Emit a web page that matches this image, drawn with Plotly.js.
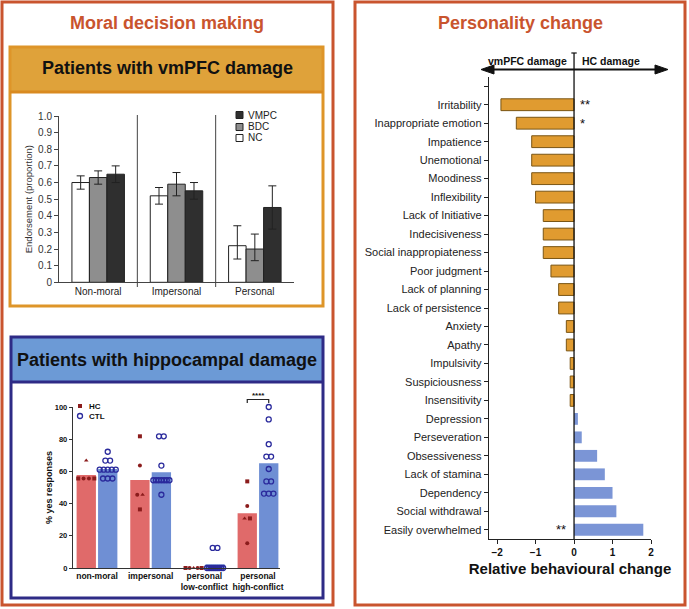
<!DOCTYPE html>
<html>
<head>
<meta charset="utf-8">
<script src="https://cdn.plot.ly/plotly-3.0.1.min.js"></script>
<style>
  html, body { margin: 0; padding: 0; background: #fff; }
  #chart { width: 689px; height: 609px; }
</style>
</head>
<body>
<div id="chart"></div>
<script>
// ---------------- DATA ----------------
// Panel A: Patients with vmPFC damage (endorsement proportion)
const moralCats = ['Non-moral', 'Impersonal', 'Personal'];
const ncVals   = [0.60, 0.52, 0.22];
const ncHi     = [0.64, 0.57, 0.34];
const ncLo     = [0.56, 0.47, 0.14];
const bdcVals  = [0.63, 0.59, 0.20];
const bdcHi    = [0.67, 0.66, 0.29];
const bdcLo    = [0.59, 0.52, 0.13];
const vmpcVals = [0.65, 0.55, 0.45];
const vmpcHi   = [0.70, 0.60, 0.58];
const vmpcLo   = [0.60, 0.50, 0.32];
const endorseTicks    = [0, 0.1, 0.2, 0.3, 0.4, 0.5, 0.6, 0.7, 0.8, 0.9, 1.0];
const endorseTickText = ['0', '0.1', '0.2', '0.3', '0.4', '0.5', '0.6', '0.7', '0.8', '0.9', '1.0'];

// Panel B: Patients with hippocampal damage (% yes responses)
const hcCats   = ['non-moral', 'impersonal', 'personal<br>low-conflict', 'personal<br>high-conflict'];
const hcMeans  = [57.8, 54.6, 0, 34.0];
const ctlMeans = [61.5, 59.5, 2.3, 65.0];
// individual HC patients (5 per condition, same patient order)
const hcPoints = [
  [55.6, 55.6, 66.7, 55.6, 55.6],
  [36.4, 45.5, 45.5, 63.6, 81.8],
  [0, 0, 0, 0, 0],
  [53.8, 15.4, 30.8, 38.5, 30.8]
];
const hcSymbols = ['square', 'circle', 'triangle-up', 'circle', 'square'];
// individual controls
const ctlPoints = [
  [72.2, 66.7, 66.7, 61.1, 61.1, 61.1, 61.1, 61.1, 55.6, 55.6, 55.6],
  [81.8, 81.8, 63.6, 54.5, 54.5, 54.5, 54.5, 54.5, 54.5, 54.5, 45.5],
  [12.5, 12.5, 0, 0, 0, 0, 0, 0, 0, 0, 0],
  [100, 92.3, 76.9, 69.2, 69.2, 61.5, 53.8, 53.8, 46.2, 46.2, 46.2]
];
const pctTicks = [0, 20, 40, 60, 80, 100];

// Panel C: Personality change
const traits = ['Irritability', 'Inappropriate emotion', 'Impatience', 'Unemotional', 'Moodiness',
  'Inflexibility', 'Lack of Initiative', 'Indecisiveness', 'Social inappropiateness', 'Poor judgment',
  'Lack of planning', 'Lack of persistence', 'Anxiety', 'Apathy', 'Impulsivity', 'Suspiciousness',
  'Insensitivity', 'Depression', 'Perseveration', 'Obsessiveness', 'Lack of stamina', 'Dependency',
  'Social withdrawal', 'Easily overwhelmed'];
const traitChange = [-1.9, -1.5, -1.1, -1.1, -1.1, -1.0, -0.8, -0.8, -0.8, -0.6,
  -0.4, -0.4, -0.2, -0.2, -0.1, -0.1, -0.1, 0.1, 0.2, 0.6, 0.8, 1.0, 1.1, 1.8];
const traitStars = {'Irritability': '**', 'Inappropriate emotion': '*', 'Easily overwhelmed': '**'};
const changeTicks = [-2, -1, 0, 1, 2];

// ---------------- HELPERS ----------------
const W = 689, H = 609;
const px = x => x / W;
const py = y => 1 - y / H;
const FONT = 'Liberation Sans, Arial, Helvetica, sans-serif';
const ORANGE_RED = '#c9542e';

function spread(vals, center, step, maxSpan) {
  const out = new Array(vals.length);
  const groups = {};
  vals.forEach((v, i) => { (groups[v] = groups[v] || []).push(i); });
  Object.values(groups).forEach(idx => {
    const n = idx.length;
    const s = n > 1 ? Math.min(step, maxSpan / (n - 1)) : 0;
    idx.forEach((i, k) => { out[i] = center + (k - (n - 1) / 2) * s; });
  });
  return out;
}

const traces = [];

// ---- Panel A bars ----
function errPlus(v, hi) { return hi.map((h, i) => +(h - v[i]).toFixed(3)); }
function errMinus(v, lo) { return lo.map((l, i) => +(v[i] - l).toFixed(3)); }
[
  {name: 'NC',   v: ncVals,   hi: ncHi,   lo: ncLo,   fill: '#ffffff'},
  {name: 'BDC',  v: bdcVals,  hi: bdcHi,  lo: bdcLo,  fill: '#8e8e8e'},
  {name: 'VMPC', v: vmpcVals, hi: vmpcHi, lo: vmpcLo, fill: '#2f2f2f'}
].forEach(s => {
  traces.push({
    type: 'bar', name: s.name, x: moralCats, y: s.v, xaxis: 'x', yaxis: 'y',
    marker: {color: s.fill, line: {color: '#222', width: 1}},
    error_y: {type: 'data', array: errPlus(s.v, s.hi), arrayminus: errMinus(s.v, s.lo),
              color: '#222', thickness: 1, width: 4},
    showlegend: false, hoverinfo: 'skip'
  });
});

// ---- Panel B bars + points ----
const OFF = 0.2;
traces.push({
  type: 'bar', name: 'HC', x: hcCats.map((_, i) => i - OFF), y: hcMeans, width: 0.36,
  xaxis: 'x2', yaxis: 'y2', marker: {color: '#e06a6a'}, showlegend: false, hoverinfo: 'skip'
});
traces.push({
  type: 'bar', name: 'CTL', x: hcCats.map((_, i) => i + OFF), y: ctlMeans, width: 0.36,
  xaxis: 'x2', yaxis: 'y2', marker: {color: '#6f8fd4'}, showlegend: false, hoverinfo: 'skip'
});
let hcX = [], hcY = [], hcS = [];
hcPoints.forEach((vals, i) => {
  const xs = spread(vals, i - OFF, 0.1, 0.3);
  xs.forEach((x, k) => { hcX.push(x); hcY.push(vals[k]); hcS.push(hcSymbols[k]); });
});
traces.push({
  type: 'scatter', mode: 'markers', x: hcX, y: hcY, xaxis: 'x2', yaxis: 'y2', cliponaxis: false,
  marker: {symbol: hcS, color: '#8b1c1c', size: 4}, showlegend: false, hoverinfo: 'skip'
});
let ctlX = [], ctlY = [];
ctlPoints.forEach((vals, i) => {
  const xs = spread(vals, i + OFF, 0.088, 0.3);
  xs.forEach((x, k) => { ctlX.push(x); ctlY.push(vals[k]); });
});
traces.push({
  type: 'scatter', mode: 'markers', x: ctlX, y: ctlY, xaxis: 'x2', yaxis: 'y2', cliponaxis: false,
  marker: {symbol: 'circle-open', color: '#2a2a9c', size: 5, line: {width: 1.3, color: '#2a2a9c'}},
  showlegend: false, hoverinfo: 'skip'
});

// ---- Panel C bars ----
const traitIdx = traits.map((_, i) => traits.length - 1 - i);
traces.push({
  type: 'bar', orientation: 'h', x: traitChange, y: traitIdx, xaxis: 'x3', yaxis: 'y3', width: 0.64,
  marker: {
    color: traitChange.map(v => v < 0 ? '#e09b30' : '#7b95d6'),
    line: {color: traitChange.map(v => v < 0 ? '#7a5514' : '#7b95d6'), width: traitChange.map(v => v < 0 ? 1 : 0)}
  },
  showlegend: false, hoverinfo: 'skip'
});

// ---------------- SHAPES ----------------
const shapes = [];
// outer panels
shapes.push({type: 'rect', xref: 'paper', yref: 'paper', x0: px(2), x1: px(333), y0: py(605), y1: py(2),
  line: {color: ORANGE_RED, width: 3}, layer: 'below'});
shapes.push({type: 'rect', xref: 'paper', yref: 'paper', x0: px(355), x1: px(685), y0: py(605), y1: py(2),
  line: {color: ORANGE_RED, width: 3}, layer: 'below'});
// gold box
shapes.push({type: 'rect', xref: 'paper', yref: 'paper', x0: px(10), x1: px(323), y0: py(92), y1: py(47),
  fillcolor: '#dfa23a', line: {width: 0}, layer: 'below'});
shapes.push({type: 'rect', xref: 'paper', yref: 'paper', x0: px(10), x1: px(323), y0: py(306), y1: py(47),
  line: {color: '#de9529', width: 3}, layer: 'below'});
shapes.push({type: 'line', xref: 'paper', yref: 'paper', x0: px(10), x1: px(323), y0: py(92), y1: py(92),
  line: {color: '#d98a20', width: 3}, layer: 'below'});
// blue box
shapes.push({type: 'rect', xref: 'paper', yref: 'paper', x0: px(11), x1: px(323), y0: py(382), y1: py(337),
  fillcolor: '#6c9ad6', line: {width: 0}, layer: 'below'});
shapes.push({type: 'rect', xref: 'paper', yref: 'paper', x0: px(11), x1: px(323), y0: py(598), y1: py(337),
  line: {color: '#2e2b86', width: 3}, layer: 'below'});
shapes.push({type: 'line', xref: 'paper', yref: 'paper', x0: px(11), x1: px(323), y0: py(382), y1: py(382),
  line: {color: '#2e2b86', width: 3}, layer: 'below'});

// Panel A dividers between condition groups
[0.5, 1.5].forEach(x => shapes.push({type: 'line', xref: 'x', yref: 'paper', x0: x, x1: x,
  y0: py(287), y1: py(115), line: {color: '#444', width: 1}}));

// Panel A legend swatches
const legA = [['VMPC', '#2f2f2f', 115], ['BDC', '#8e8e8e', 127], ['NC', '#ffffff', 138]];
legA.forEach(l => shapes.push({type: 'rect', xref: 'paper', yref: 'paper',
  x0: px(236), x1: px(243), y0: py(l[2] + 3.5), y1: py(l[2] - 3.5),
  fillcolor: l[1], line: {color: '#222', width: 1}}));

// Panel B legend markers
shapes.push({type: 'rect', xref: 'paper', yref: 'paper', x0: px(78), x1: px(82), y0: py(408), y1: py(404),
  fillcolor: '#8b1c1c', line: {width: 0}});
shapes.push({type: 'circle', xref: 'paper', yref: 'paper', x0: px(77.5), x1: px(82.5), y0: py(418.5), y1: py(413.5),
  line: {color: '#2a2a9c', width: 1.3}});
// Panel B significance bracket
shapes.push({type: 'path', xref: 'x2', yref: 'paper',
  path: `M ${3 - OFF} ${py(403)} L ${3 - OFF} ${py(399.5)} L ${3 + OFF} ${py(399.5)} L ${3 + OFF} ${py(403)}`,
  line: {color: '#222', width: 1.2}});

// Panel C zero line with top cap
shapes.push({type: 'line', xref: 'x3', yref: 'paper', x0: 0, x1: 0, y0: py(539), y1: py(53),
  line: {color: '#111', width: 1.3}});
shapes.push({type: 'line', xref: 'x3', yref: 'paper', x0: -0.07, x1: 0.07, y0: py(53), y1: py(53),
  line: {color: '#111', width: 1.2}});
// double arrow
shapes.push({type: 'line', xref: 'paper', yref: 'paper', x0: px(488), x1: px(661), y0: py(69.5), y1: py(69.5),
  line: {color: '#111', width: 2}});
shapes.push({type: 'path', xref: 'paper', yref: 'paper',
  path: `M ${px(481)} ${py(69.5)} L ${px(494)} ${py(65)} L ${px(494)} ${py(74)} Z`,
  fillcolor: '#111', line: {color: '#111', width: 1}});
shapes.push({type: 'path', xref: 'paper', yref: 'paper',
  path: `M ${px(668)} ${py(69.5)} L ${px(655)} ${py(65)} L ${px(655)} ${py(74)} Z`,
  fillcolor: '#111', line: {color: '#111', width: 1}});

// ---------------- ANNOTATIONS ----------------
const ann = [];
function txt(x, y, text, size, opts) {
  ann.push(Object.assign({xref: 'paper', yref: 'paper', x: px(x), y: py(y), text: text, showarrow: false,
    font: {size: size, color: '#111', family: FONT}, xanchor: 'center', yanchor: 'middle'}, opts || {}));
}
txt(167, 23, 'Moral decision making', 18, {font: {size: 18, color: ORANGE_RED, family: FONT, weight: 'bold'}});
txt(520, 23, 'Personality change', 18, {font: {size: 18, color: ORANGE_RED, family: FONT, weight: 'bold'}});
txt(167, 68, 'Patients with vmPFC damage', 18, {font: {size: 18, color: '#111', family: FONT, weight: 'bold'}});
txt(167, 360, 'Patients with hippocampal damage', 18, {font: {size: 18, color: '#111', family: FONT, weight: 'bold'}});
legA.forEach(l => txt(246, l[2], l[0], 10, {xanchor: 'left', font: {size: 10, color: '#222', family: FONT}}));
txt(87, 406, 'HC', 8, {xanchor: 'left', font: {size: 8, color: '#111', family: FONT, weight: 'bold'}});
txt(87, 416, 'CTL', 8, {xanchor: 'left', font: {size: 8, color: '#111', family: FONT, weight: 'bold'}});
ann.push({xref: 'x2', yref: 'paper', x: 3, y: py(395.5), text: '****', showarrow: false,
  font: {size: 8, color: '#111', family: FONT, weight: 'bold'}, xanchor: 'center', yanchor: 'middle'});
txt(569, 61, 'vmPFC damage', 10.5, {xanchor: 'right', font: {size: 10.5, color: '#111', family: FONT, weight: 'bold'}});
txt(580, 61, 'HC damage', 10.5, {xanchor: 'left', font: {size: 10.5, color: '#111', family: FONT, weight: 'bold'}});
traits.forEach((t, i) => {
  if (!traitStars[t]) return;
  const neg = traitChange[i] < 0;
  ann.push({xref: 'x3', yref: 'y3', x: neg ? 0.1 : -0.15, y: traitIdx[i], text: traitStars[t], showarrow: false,
    xanchor: neg ? 'left' : 'right', yanchor: 'middle',
    font: {size: 13, color: '#111', family: FONT}});
});

// ---------------- LAYOUT ----------------
const layout = {
  width: W, height: H,
  margin: {l: 0, r: 0, t: 0, b: 0},
  paper_bgcolor: '#ffffff', plot_bgcolor: 'rgba(0,0,0,0)',
  font: {family: FONT, color: '#222'},
  showlegend: false,
  barmode: 'group', bargap: 0.33, bargroupgap: 0,
  xaxis: {domain: [px(59), px(294)], anchor: 'y', type: 'category', showline: true, linecolor: '#444',
    linewidth: 1, ticks: '', tickfont: {size: 10, color: '#222'}, showgrid: false, zeroline: false, fixedrange: true},
  yaxis: {domain: [py(282.3), py(116)], anchor: 'x', range: [0, 1], tickvals: endorseTicks, ticktext: endorseTickText,
    ticks: 'outside', ticklen: 4, tickcolor: '#444', showline: true, linecolor: '#444', linewidth: 1,
    tickfont: {size: 10, color: '#333'}, showgrid: false, zeroline: false,
    title: {text: 'Endorsement (proportion)', font: {size: 9.5, color: '#333'}, standoff: 3}},
  xaxis2: {domain: [px(73), px(280)], anchor: 'y2', range: [-0.447, 3.41], tickvals: [0, 1, 2, 3], ticktext: hcCats,
    tickangle: 0, ticks: '', showline: true, linecolor: '#333', linewidth: 1.2, showgrid: false, zeroline: false,
    tickfont: {size: 8.5, color: '#111', weight: 'bold'}},
  yaxis2: {domain: [py(568), py(407)], anchor: 'x2', range: [0, 100], tickvals: pctTicks,
    ticks: 'outside', ticklen: 3, tickcolor: '#333', showline: true, linecolor: '#333', linewidth: 1.2,
    showgrid: false, zeroline: false, tickfont: {size: 7.5, color: '#111', weight: 'bold'},
    title: {text: '% yes responses', font: {size: 9, color: '#111', weight: 'bold'}, standoff: 0}},
  xaxis3: {domain: [px(489), px(651)], anchor: 'y3', range: [-2.21, 2.0], tickvals: changeTicks,
    ticks: 'outside', ticklen: 4, tickcolor: '#222', showline: true, linecolor: '#222', linewidth: 1.3,
    showgrid: false, zeroline: false, tickfont: {size: 10, color: '#111', weight: 'bold'},
    title: {text: 'Relative behavioural change', font: {size: 15, color: '#111', weight: 'bold'}, standoff: 6}},
  yaxis3: {domain: [py(539), py(77)], anchor: 'x3', range: [-0.5, traits.length + 0.5],
    tickvals: traitIdx.concat([traits.length]), ticktext: traits.concat(['']),
    ticks: 'outside', ticklen: 4, tickcolor: '#222', showline: true, linecolor: '#222', linewidth: 1.3,
    showgrid: false, zeroline: false, tickfont: {size: 11, color: '#222'}},
  shapes: shapes,
  annotations: ann
};

Plotly.newPlot('chart', traces, layout, {displayModeBar: false, staticPlot: true});
</script>
</body>
</html>
